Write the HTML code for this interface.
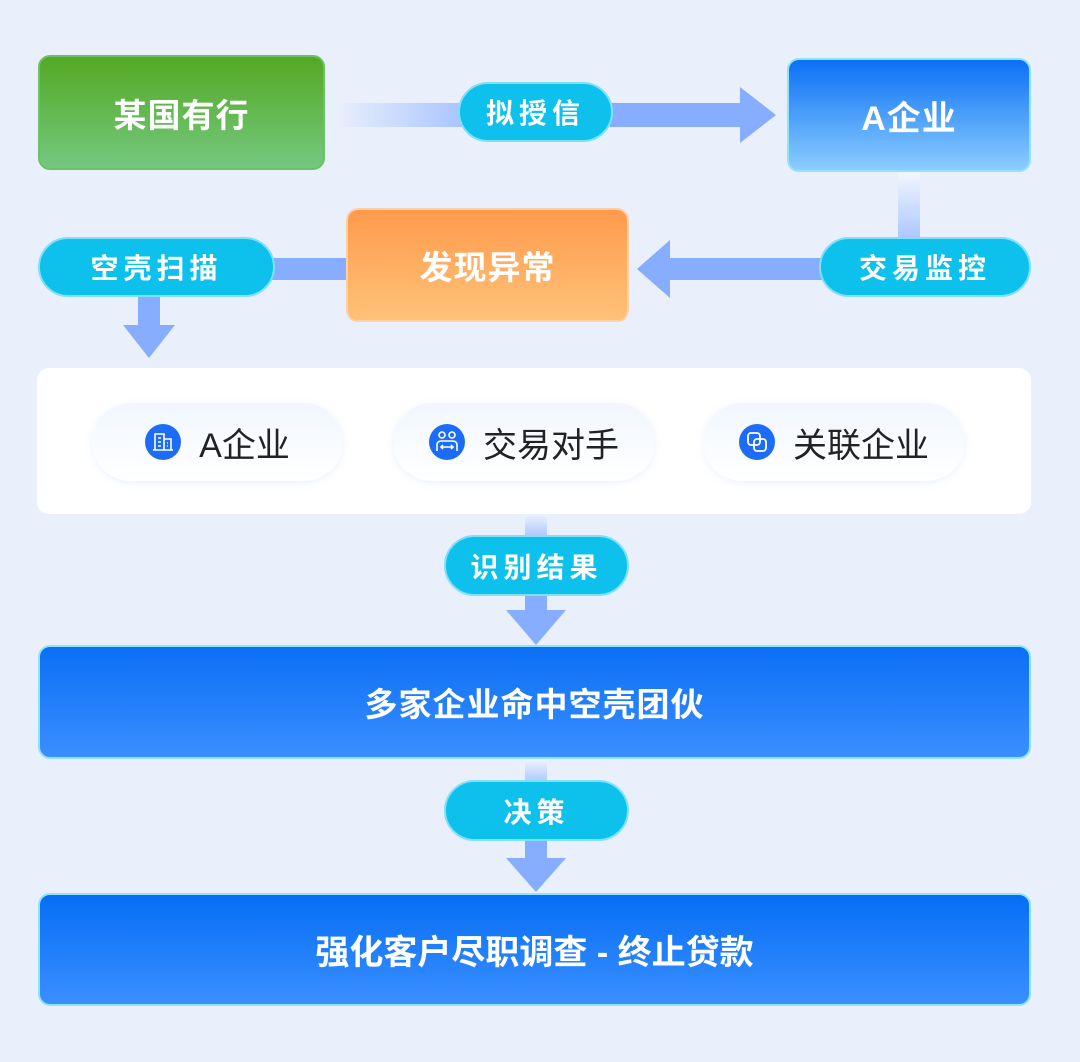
<!DOCTYPE html>
<html><head><meta charset="utf-8"><style>
*{margin:0;padding:0;box-sizing:border-box}
body{width:1080px;height:1062px;background:#e9f0fb;position:relative;overflow:hidden;font-family:"Liberation Sans","Noto Sans CJK SC",sans-serif}
.a{position:absolute;display:flex;align-items:center;justify-content:center;color:#fff;font-weight:bold}
.box{border-radius:12px;font-size:33px;letter-spacing:1px}
.pill{background:#0dc1ec;border:2px solid #7fe0f8;border-radius:31px;font-size:28px;letter-spacing:5px}
.chip{position:absolute;top:403px;height:78px;border-radius:39px;background:linear-gradient(#f1f6ff,#fff);box-shadow:0 2px 8px rgba(150,180,230,.18);display:flex;align-items:center;justify-content:center;font-size:34px;color:#222;font-weight:normal}
.chip svg{margin-right:18px}
svg.l{position:absolute;left:0;top:0}
</style></head><body>
<svg class="l" width="1080" height="1062">
<defs>
<linearGradient id="g1" x1="0" x2="1"><stop offset="0" stop-color="#e9f0fb"/><stop offset="1" stop-color="#a8c4ff"/></linearGradient>
<linearGradient id="g2" x1="0" y1="0" x2="0" y2="1"><stop offset="0" stop-color="#f2f6ff"/><stop offset="1" stop-color="#a8c4ff"/></linearGradient>
</defs>
<rect x="335" y="103" width="130" height="24" fill="url(#g1)"/>
<rect x="610" y="103" width="132" height="24" fill="#86adff"/>
<polygon points="740,87 776,115 740,143" fill="#86adff"/>
<rect x="898" y="172" width="22" height="70" fill="url(#g2)"/>
<rect x="668" y="258" width="155" height="22" fill="#86adff"/>
<polygon points="670,240 637,269 670,298" fill="#86adff"/>
<rect x="272" y="258" width="76" height="22" fill="#86adff"/>
<rect x="138" y="295" width="22" height="32" fill="#86adff"/>
<polygon points="123,325 175,325 149,358" fill="#86adff"/>
<rect x="525" y="512" width="22" height="26" fill="url(#g2)"/>
<rect x="525" y="594" width="22" height="18" fill="#86adff"/>
<polygon points="506,610 566,610 536,645" fill="#86adff"/>
<rect x="525" y="758" width="22" height="26" fill="url(#g2)"/>
<rect x="525" y="839" width="22" height="21" fill="#86adff"/>
<polygon points="506,858 566,858 536,892" fill="#86adff"/>
</svg>

<div class="a box" style="left:38px;top:55px;width:287px;height:115px;background:linear-gradient(#53a923,#74c87f);border:2px solid #6cc06a">某国有行</div>
<div class="a pill" style="left:458px;top:82px;width:155px;height:60px">拟授信</div>
<div class="a box" style="left:787px;top:58px;width:244px;height:114px;background:linear-gradient(#0b70f5,#8ccdff);border:2px solid #8ee4fb;font-size:34px">A企业</div>
<div class="a pill" style="left:819px;top:237px;width:212px;height:60px">交易监控</div>
<div class="a box" style="left:346px;top:208px;width:283px;height:114px;background:linear-gradient(#ff9a4c,#ffc278);border:2px solid #ffd0a8">发现异常</div>
<div class="a pill" style="left:38px;top:237px;width:237px;height:60px">空壳扫描</div>

<div style="position:absolute;left:37px;top:368px;width:994px;height:146px;background:#fff;border-radius:12px"></div>
<div class="chip" style="left:92px;width:251px"><svg width="36" height="36" viewBox="0 0 36 36"><circle cx="18" cy="18" r="18" fill="#1c6cf5"/><path d="M10 26V10h9v16M19 15h7v11M8 26h20M13 14h3M13 18h3M13 22h3M22 19h1M22 22h1" stroke="#fff" stroke-width="1.6" fill="none"/></svg>A企业</div>
<div class="chip" style="left:393px;width:262px"><svg width="36" height="36" viewBox="0 0 36 36"><circle cx="18" cy="18" r="18" fill="#1c6cf5"/><circle cx="13" cy="11" r="3" stroke="#fff" stroke-width="1.6" fill="none"/><circle cx="23" cy="11" r="3" stroke="#fff" stroke-width="1.6" fill="none"/><path d="M8 27v-6q0-4 5-4h10q5 0 5 4v6M12 23h12M14 21l-2 2 2 2M22 21l2 2-2 2" stroke="#fff" stroke-width="1.6" fill="none"/></svg>交易对手</div>
<div class="chip" style="left:703px;width:262px"><svg width="36" height="36" viewBox="0 0 36 36"><circle cx="18" cy="18" r="18" fill="#1c6cf5"/><rect x="9" y="9" width="12" height="12" rx="3" stroke="#fff" stroke-width="1.8" fill="none"/><rect x="15" y="15" width="12" height="12" rx="3" stroke="#fff" stroke-width="1.8" fill="none"/></svg>关联企业</div>

<div class="a pill" style="left:444px;top:535px;width:185px;height:61px">识别结果</div>
<div class="a box" style="left:38px;top:645px;width:993px;height:114px;background:linear-gradient(#0b6ff5,#3a8fff);border:2px solid #8ee4fb">多家企业命中空壳团伙</div>
<div class="a pill" style="left:444px;top:780px;width:185px;height:61px">决策</div>
<div class="a box" style="left:38px;top:893px;width:993px;height:113px;background:linear-gradient(#066ef5,#3a8fff);border:2px solid #8ee4fb;font-size:34px;letter-spacing:0">强化客户尽职调查 - 终止贷款</div>
</body></html>
